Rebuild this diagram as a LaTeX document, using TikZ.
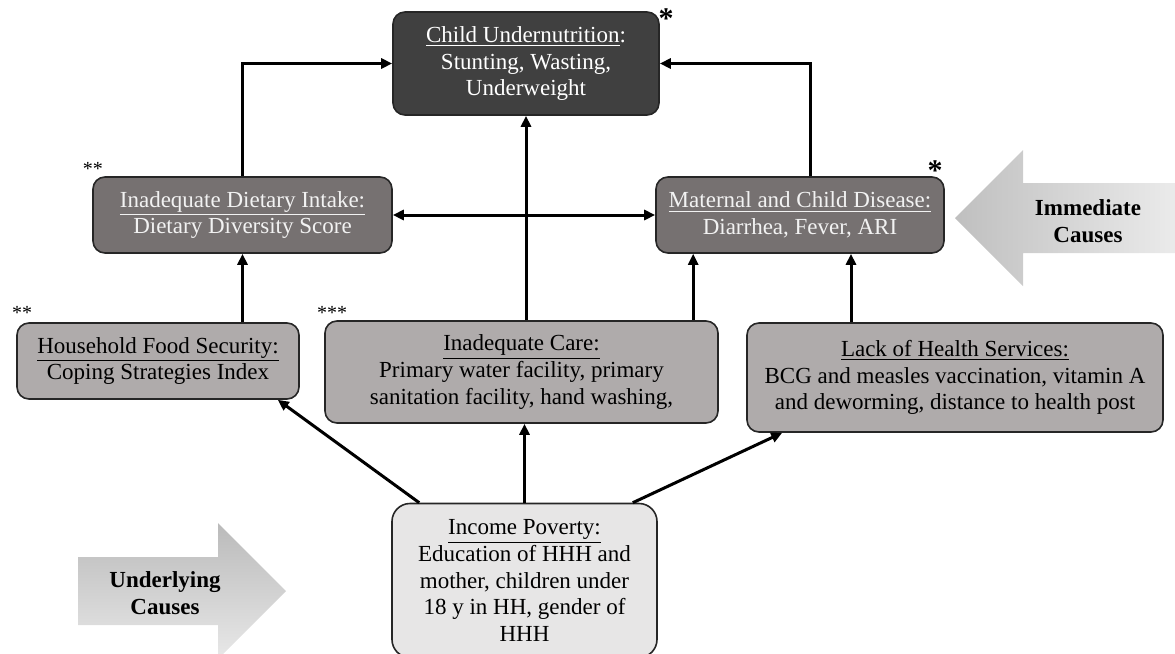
\documentclass[tikz,border=0pt]{standalone}
\usepackage{fontspec}
\setmainfont{Liberation Serif}
\usetikzlibrary{arrows.meta,positioning}

\definecolor{darkbox}{HTML}{404040}
\definecolor{midbox}{HTML}{767171}
\definecolor{lightbox}{HTML}{AFABAB}
\definecolor{palebox}{HTML}{E7E6E6}
\definecolor{boxtext}{HTML}{F2F2F2}

\tikzset{
  box/.style={draw=black!85,line width=0.8pt,rounded corners=6pt,align=center,inner sep=2pt,
    font=\fontsize{11.5}{13.4}\selectfont},
  conn/.style={line width=1.5pt,-{Triangle[length=5.5pt,width=5pt]}},
  twoway/.style={line width=1.5pt,{Triangle[length=5.5pt,width=5pt]}-{Triangle[length=5.5pt,width=5pt]}},
  stars/.style={inner sep=0pt,font=\fontsize{10}{10}\selectfont},
  bigstar/.style={inner sep=0pt,font=\fontsize{15}{15}\selectfont\bfseries},
  causes/.style={align=center,inner sep=0pt,font=\fontsize{11.5}{13.6}\selectfont\bfseries}
}

\begin{document}
\begin{tikzpicture}[x=0.5pt,y=0.5pt]
\useasboundingbox (0,0) rectangle (1175,-654);
\shade [left color=black!25,right color=black!8] (955,-218) -- (1023,-150) -- (1023,-183) -- (1175,-183)
  -- (1175,-253) -- (1023,-253) -- (1023,-286) -- cycle;
\shade [top color=black!27,bottom color=black!9] (78,-557) -- (218,-557) -- (218,-523) -- (286,-591)
  -- (218,-659) -- (218,-625) -- (78,-625) -- cycle;
\node [causes] (immediate) at (1088,-221) {Immediate\\Causes};
\node [causes] (underlying) at (165,-593) {Underlying\\Causes};

\node [box,fill=darkbox,text=white,minimum width=133pt,minimum height=51.5pt] (child) at (526,-63.5)
  {\underline{Child Undernutrition}:\\Stunting, Wasting,\\Underweight};
\node [box,fill=midbox,text=boxtext,minimum width=149.5pt,minimum height=38pt] (diet) at (242.5,-215)
  {\underline{Inadequate Dietary Intake:}\\Dietary Diversity Score};
\node [box,fill=midbox,text=boxtext,minimum width=144pt,minimum height=38pt] (disease) at (800,-215)
  {\underline{Maternal and Child Disease:}\\Diarrhea, Fever, ARI};
\node [box,fill=lightbox,minimum width=141pt,minimum height=38pt] (food) at (158,-361)
  {\underline{Household Food Security:}\\Coping Strategies Index};
\node [box,fill=lightbox,minimum width=196.5pt,minimum height=51pt] (care) at (521.5,-372)
  {\underline{Inadequate Care:}\\Primary water facility, primary\\sanitation facility, hand washing,};
\node [box,fill=lightbox,minimum width=208pt,minimum height=54.5pt] (health) at (955,-377.5)
  {\underline{Lack of Health Services:}\\BCG and measles vaccination, vitamin A\\and deworming, distance to health post};
\node [box,fill=palebox,rounded corners=9pt,minimum width=132.5pt,minimum height=77pt] (income) at (524.5,-580.5)
  {\underline{Income Poverty:}\\Education of HHH and\\mother, children under\\18 y in HH, gender of\\HHH};

\node [bigstar] (star1) at (666,-19) {*};
\node [bigstar] (star2) at (935,-171) {*};
\node [stars] (star3) at (93,-169) {**};
\node [stars] (star4) at (22,-313) {**};
\node [stars] (star5) at (332,-313) {***};

\draw [conn] (diet.north) |- (child.west);
\draw [conn] ([xshift=5pt]disease.north) |- (child.east);
\draw [conn] (care.north -| child.south) -- (child.south);
\draw [conn] ([xshift=19pt]disease.south west |- care.north) -- ([xshift=19pt]disease.south west);
\draw [conn] ([xshift=25.5pt]disease.south |- health.north) -- ([xshift=25.5pt]disease.south);
\draw [conn] (diet.south |- food.north) -- (diet.south);
\draw [twoway] (diet.east) -- (disease.west);
\draw [conn] ([xshift=14pt]income.north west) -- ([xshift=-11pt]food.south east);
\draw [conn] (income.north) -- (income.north |- care.south);
\draw [conn] ([xshift=-12.5pt]income.north east) -- ([xshift=18pt]health.south west);
\end{tikzpicture}
\end{document}
